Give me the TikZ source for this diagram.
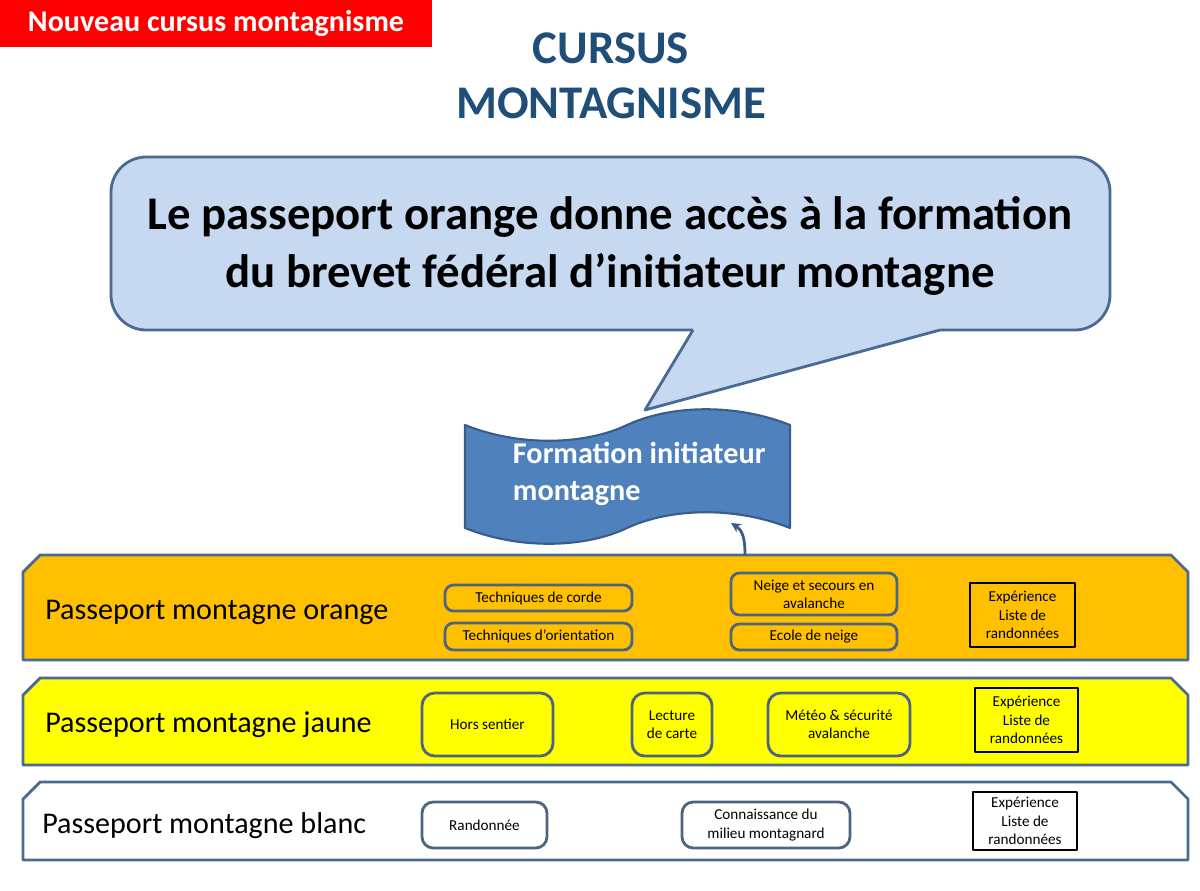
\documentclass[tikz,border=0pt]{standalone}
\usepackage{fontspec}
\setmainfont{Carlito}
\usetikzlibrary{arrows.meta}
\definecolor{tagred}{HTML}{FF0000}
\definecolor{titleblue}{HTML}{1F4E79}
\definecolor{calloutfill}{HTML}{C6D9F1}
\definecolor{calloutline}{HTML}{4A6A94}
\definecolor{scrollfill}{HTML}{4F81BD}
\definecolor{scrollline}{HTML}{385D8A}
\definecolor{orangeband}{HTML}{FFC000}
\definecolor{yellowband}{HTML}{FFFF00}
\definecolor{bandline}{HTML}{4A6A94}
\definecolor{itemline}{HTML}{4E6580}
\begin{document}
\begin{tikzpicture}[x=0.025cm, y=-0.025cm, line join=round, >={Stealth[length=7pt, width=7pt]},
    band/.style={draw=bandline, line width=2pt},
    bandlabel/.style={anchor=west, inner sep=0pt, font=\fontsize{21.4}{25}\selectfont},
    item/.style={draw=itemline, line width=2pt, rounded corners=6pt, align=center, inner sep=0pt,
      font=\fontsize{10.8}{13}\selectfont},
    xpbox/.style={draw=black, line width=2pt, align=center, inner sep=0pt,
      font=\fontsize{10.8}{13}\selectfont}]
    \def\px{0.025cm}
    \useasboundingbox (0,0) rectangle (1200,890);
    % bandeau et titre
    \fill[tagred] (0,0) rectangle (432,47);
    \node[text=white, font=\bfseries\fontsize{21.4}{24}\selectfont] (tag) at (216,23) {Nouveau cursus montagnisme};
    \node[text=titleblue, align=center, font=\bfseries\fontsize{33.3}{39.5}\selectfont] (title) at (611,76) {CURSUS\\MONTAGNISME};
    % bulle
    \draw[fill=calloutfill, draw=calloutline, line width=2pt, rounded corners=25pt] (111,157) rectangle (1110,330);
    \fill[calloutfill] (693,326) -- (693,330) -- (645,410) -- (940,330) -- (940,326) -- cycle;
    \draw[calloutline, line width=2pt] (693,330) -- (645,410) -- (940,330);
    \node[align=center, font=\bfseries\fontsize{33.3}{41}\selectfont] (msg) at (610,246) {Le passeport orange donne accès à la formation\\du brevet fédéral d’initiateur montagne};
    % bande perforee
    \draw[fill=scrollfill, draw=scrollline, line width=1.5pt] (465,425) .. controls (520,447) and (585,445) .. (627,425)
      .. controls (670,405) and (735,403) .. (790,425) -- (790,528)
      .. controls (735,506) and (670,508) .. (627,528)
      .. controls (585,548) and (520,550) .. (465,528) -- cycle;
    \node[anchor=west, align=left, text=white, font=\bfseries\fontsize{21.5}{26}\selectfont] (formation) at (508,474) {Formation initiateur\\montagne};
    \coordinate (scrollbot) at (731,523);
    % passeports
    \foreach \top/\bot/\col in {555/660/orangeband, 678/765/yellowband, 782/860/white}
      \draw[band, fill=\col] (23,\bot) -- (23,\top+17) -- (40,\top) -- (1171,\top) -- (1188,\top+17) -- (1188,\bot) -- cycle;
    \coordinate (orangetop) at (745,555);
    \draw[->, scrollline, line width=2pt] (orangetop) .. controls (745,537) and (742,530) .. (scrollbot);
    \node[bandlabel] (orange) at (45,612) {Passeport montagne orange};
    \node[bandlabel] (jaune) at (45,725) {Passeport montagne jaune};
    \node[bandlabel] (blanc) at (42,826) {Passeport montagne blanc};
    % orange
    \node[item, minimum width=187*\px, minimum height=26*\px] (corde) at (538.5,598) {Techniques de corde};
    \node[item, minimum width=187*\px, minimum height=27*\px] (orient) at (538.5,636.5) {Techniques d’orientation};
    \node[item, minimum width=166*\px, minimum height=42*\px] (neige) at (814,594) {Neige et secours en\\avalanche};
    \node[item, minimum width=166*\px, minimum height=26*\px] (ecole) at (814,637) {Ecole de neige};
    \node[xpbox, minimum width=105*\px, minimum height=64*\px] (xporange) at (1022.5,615) {Expérience\\Liste de\\randonnées};
    % jaune
    \node[item, rounded corners=9pt, minimum width=131*\px, minimum height=63*\px] (hors) at (487.5,724.5) {Hors sentier};
    \node[item, rounded corners=9pt, minimum width=80*\px, minimum height=63*\px] (lecture) at (672,724.5) {Lecture\\de carte};
    \node[item, rounded corners=9pt, minimum width=142*\px, minimum height=63*\px] (meteo) at (839,724.5) {Météo \& sécurité\\avalanche};
    \node[xpbox, minimum width=103*\px, minimum height=64*\px] (xpjaune) at (1026.5,720) {Expérience\\Liste de\\randonnées};
    % blanc
    \node[item, rounded corners=8pt, minimum width=125*\px, minimum height=46*\px] (rando) at (484.5,825) {Randonnée};
    \node[item, rounded corners=8pt, minimum width=168*\px, minimum height=46*\px] (milieu) at (766,825) {Connaissance du\\milieu montagnard};
    \node[xpbox, minimum width=104*\px, minimum height=58*\px] (xpblanc) at (1025,821) {Expérience\\Liste de\\randonnées};
\end{tikzpicture}
\end{document}
